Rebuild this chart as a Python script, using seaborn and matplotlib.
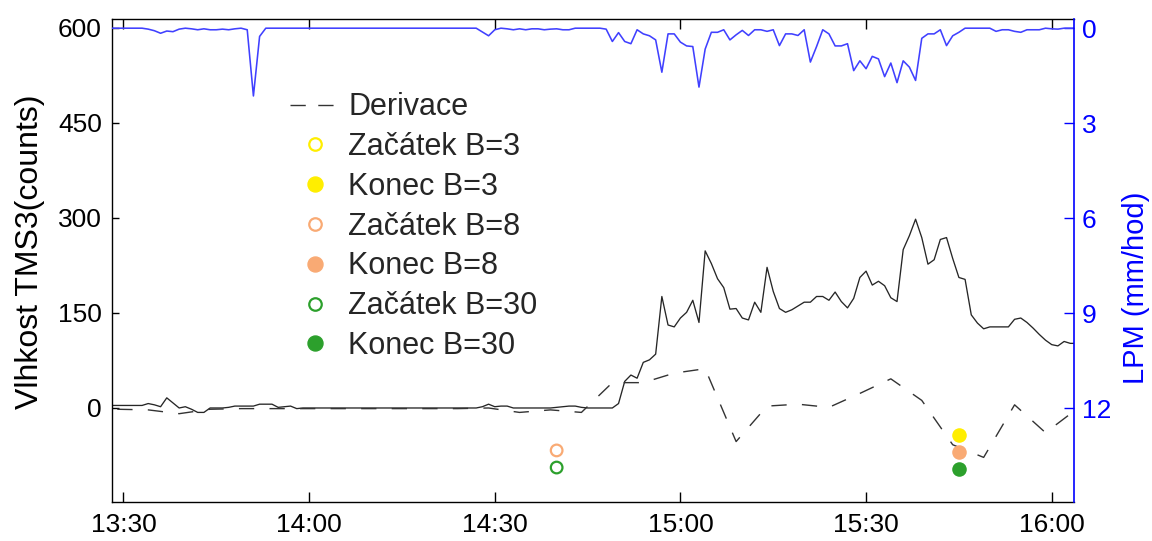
import matplotlib
matplotlib.use("Agg")
import matplotlib.pyplot as plt
from matplotlib.lines import Line2D
import pandas as pd
import seaborn as sns

# ---- data -------------------------------------------------------------
# soil moisture (TMS3 counts), one value per minute starting 13:28
moisture_start = "2021-06-01 13:28"
moisture = [
    4, 4, 4, 4, 4, 4, 7, 5, 2, 16, 8, 0, 2, -2, -7, -7, 0, 0, 0, 1,
    3, 3, 3, 3, 6, 6, 6, 1, 2, 3, -1, 0, 0, 0, 0, 0, 0, 0, 0, 0,
    0, 0, 0, 0, 0, 0, 0, 0, 0, 0, 0, 0, 0, 0, 0, 0, 0, 0, 0, 0,
    2, 6, 2, 3, 3, 0, 0, 0, 0, 0, 0, 0, 1, 2, 3, 3, 1, 0, 0, 0,
    0, 0, 7, 42, 52, 47, 72, 76, 85, 176, 131, 128, 142, 151, 170, 135, 248, 228, 204, 190,
    156, 157, 142, 139, 167, 151, 222, 184, 157, 151, 155, 161, 167, 167, 176, 176, 170, 183, 168, 158,
    173, 206, 216, 194, 200, 193, 174, 168, 250, 272, 298, 269, 227, 234, 266, 269, 236, 206, 203, 147,
    134, 125, 128, 128, 128, 128, 140, 142, 135, 126, 116, 107, 100, 98, 105, 102, 102,
]

# rain intensity LPM (mm/hod), one value per minute starting 13:28
rain = [
    0, 0, 0, 0, 0, 0, 0.03, 0.08, 0.16, 0.09, 0.11, 0.03, 0, 0.02, 0.05, 0.02, 0.05, 0.05, 0.03, 0.05,
    0.02, 0, 0.05, 2.14, 0.26, 0, 0, 0, 0, 0, 0, 0, 0, 0, 0, 0, 0, 0, 0, 0,
    0, 0, 0, 0, 0, 0, 0, 0, 0, 0, 0, 0, 0, 0, 0, 0, 0, 0, 0, 0,
    0.12, 0.24, 0.05, 0, 0.02, 0.05, 0.02, 0.05, 0.02, 0.02, 0.05, 0.03, 0.02, 0.05, 0.05, 0, 0, 0, 0, 0,
    0.03, 0.42, 0.14, 0.42, 0.49, 0.05, 0.18, 0.24, 0.37, 1.39, 0.18, 0.18, 0.44, 0.56, 0.58, 1.86, 0.66, 0.13, 0.13, 0.05,
    0.37, 0.21, 0.07, 0.23, 0.05, 0.05, 0.10, 0.05, 0.55, 0.18, 0.18, 0.23, 0.05, 1.07, 0.58, 0.05, 0.18, 0.56, 0.56, 0.49,
    1.34, 1.03, 1.28, 0.89, 0.97, 1.53, 1.10, 1.72, 1.03, 1.23, 1.65, 0.32, 0.18, 0.18, 0.05, 0.55, 0.24, 0.13, 0, 0,
    0, 0, 0, 0.10, 0.05, 0.05, 0.10, 0.13, 0.05, 0.05, 0.05, 0, 0.02, 0.03, 0, 0, 0,
]

# derivative of the moisture signal, one value every 5 minutes starting 13:29
deriv_start = "2021-06-01 13:29"
derivace = [
    -2, -3, -9, -2, -1, -1, -1, -1, -1, -1, -1, -1, 0, -7, -3, -7,
    40, 40, 55, 62, -53, 3, 6, 1, 23, 46, 12, -58, -78, 5, -39, -2,
]

# detected start / end of the rain response for three window lengths B
start_b3_time, start_b3_val = [], []
end_b3_time, end_b3_val = ["2021-06-01 15:45"], [-42]
start_b8_time, start_b8_val = ["2021-06-01 14:40"], [-67]
end_b8_time, end_b8_val = ["2021-06-01 15:45"], [-70]
start_b30_time, start_b30_val = ["2021-06-01 14:40"], [-94]
end_b30_time, end_b30_val = ["2021-06-01 15:45"], [-97]

left_ticks = [0, 150, 300, 450, 600]
right_ticks = [0, 3, 6, 9, 12]
x_tick_labels = ["13:30", "14:00", "14:30", "15:00", "15:30", "16:00"]

# ---- styling ----------------------------------------------------------
YELLOW = "#FFEE00"
ORANGE = "#F9AA74"
GREEN = "#2CA02C"
BLUE_LINE = "#4040FF"
BLUE_AXIS = "#0000FF"
TICK_SIZE = 19
LEGEND_SIZE = 22

sns.set_style("white")
plt.rcParams["font.family"] = ["Liberation Sans", "DejaVu Sans"]

W, H = 1152, 541
fig = plt.figure(figsize=(W / 100, H / 100), dpi=100)
left_px, right_px, top_px, bottom_px = 111.7, 1074, 19, 502
ax = fig.add_axes([left_px / W, 1 - bottom_px / H, (right_px - left_px) / W, (bottom_px - top_px) / H])
ax2 = ax.twinx()

t_moist = pd.date_range(moisture_start, periods=len(moisture), freq="1min")
t_rain = pd.date_range(moisture_start, periods=len(rain), freq="1min")
t_deriv = pd.date_range(deriv_start, periods=len(derivace), freq="5min")

sns.lineplot(x=t_moist, y=moisture, ax=ax, color="#262626", linewidth=0.95)
sns.lineplot(x=t_deriv, y=derivace, ax=ax, color="#333333", linewidth=1.0,
             linestyle=(0, (11, 11)))

HOLLOW_S, FILLED_S = 70, 110


def draw_events(times, vals, color, hollow):
    if not times:
        return
    sns.scatterplot(x=pd.to_datetime(times), y=vals, ax=ax, color=color,
                    s=HOLLOW_S if hollow else FILLED_S, linewidth=0, zorder=5)
    pts = ax.collections[-1]
    if hollow:
        pts.set_facecolor("none")
        pts.set_edgecolor(color)
        pts.set_linewidth(1.6)
    else:
        pts.set_edgecolor(color)


draw_events(start_b3_time, start_b3_val, YELLOW, True)
draw_events(end_b3_time, end_b3_val, YELLOW, False)
draw_events(start_b8_time, start_b8_val, ORANGE, True)
draw_events(end_b8_time, end_b8_val, ORANGE, False)
draw_events(start_b30_time, start_b30_val, GREEN, True)
draw_events(end_b30_time, end_b30_val, GREEN, False)

sns.lineplot(x=t_rain, y=rain, ax=ax2, color=BLUE_LINE, linewidth=1.15)

# ---- axes -------------------------------------------------------------
x0 = pd.Timestamp("2021-06-01 13:28:06")
x1 = pd.Timestamp("2021-06-01 16:03:36")
ax.set_xlim(x0, x1)
ax.set_ylim(-148.4, 614)
ax2.set_ylim(14.96, -0.29)

xt = pd.to_datetime(["2021-06-01 " + s for s in x_tick_labels])
ax.set_xticks(xt)
ax.set_xticklabels(x_tick_labels)
ax.set_yticks(left_ticks)
ax.set_yticklabels([str(v) for v in left_ticks])
ax2.set_yticks(right_ticks)
ax2.set_yticklabels([str(v) for v in right_ticks])

ax.set_xlabel("")
ax.set_ylabel("")
ax2.set_ylabel("")

ax.tick_params(axis="x", which="both", direction="in", top=True, bottom=True,
               length=7, width=1, pad=8, labelsize=TICK_SIZE, colors="black")
ax.tick_params(axis="y", direction="in", left=True, right=False, length=5, width=1,
               pad=7, labelsize=TICK_SIZE, colors="black")
ax2.tick_params(axis="y", direction="in", right=True, left=False, length=7.5, width=1,
                pad=5.5, labelsize=TICK_SIZE, colors=BLUE_AXIS)
ax2.tick_params(axis="x", which="both", top=False, bottom=False)

for side in ["left", "top", "bottom"]:
    ax.spines[side].set_color("black")
    ax.spines[side].set_linewidth(1.0)
ax.spines["right"].set_visible(False)
for side in ["left", "top", "bottom"]:
    ax2.spines[side].set_visible(False)
ax2.spines["right"].set_color(BLUE_AXIS)
ax2.spines["right"].set_linewidth(1.2)

fig.text(30 / W, 1 - 252 / H, "Vlhkost TMS3(counts)", rotation=90, ha="center", va="center",
         fontsize=23, color="black")
fig.text(1136 / W, 1 - 288 / H, "LPM (mm/hod)", rotation=90, ha="center", va="center",
         fontsize=21, color=BLUE_AXIS)

# ---- legend -----------------------------------------------------------
hollow_ms, filled_ms = 9.0, 10.8
handles = [
    Line2D([], [], color="#333333", linewidth=1.0, linestyle=(0, (11, 9))),
    Line2D([], [], linestyle="none", marker="o", markersize=hollow_ms, markerfacecolor="none",
           markeredgecolor=YELLOW, markeredgewidth=1.6),
    Line2D([], [], linestyle="none", marker="o", markersize=filled_ms, color=YELLOW),
    Line2D([], [], linestyle="none", marker="o", markersize=hollow_ms, markerfacecolor="none",
           markeredgecolor=ORANGE, markeredgewidth=1.6),
    Line2D([], [], linestyle="none", marker="o", markersize=filled_ms, color=ORANGE),
    Line2D([], [], linestyle="none", marker="o", markersize=hollow_ms, markerfacecolor="none",
           markeredgecolor=GREEN, markeredgewidth=1.6),
    Line2D([], [], linestyle="none", marker="o", markersize=filled_ms, color=GREEN),
]
labels = ["Derivace", "Začátek B=3", "Konec B=3", "Začátek B=8", "Konec B=8",
          "Začátek B=30", "Konec B=30"]
ax2.legend(handles, labels, loc="upper left", bbox_to_anchor=(269 / W, 1 - 71 / H),
           bbox_transform=fig.transFigure, frameon=False, fontsize=LEGEND_SIZE,
           handlelength=1.64, handletextpad=0.26, labelspacing=0.32, borderpad=0.2)

fig.savefig("out.png", dpi=100)
